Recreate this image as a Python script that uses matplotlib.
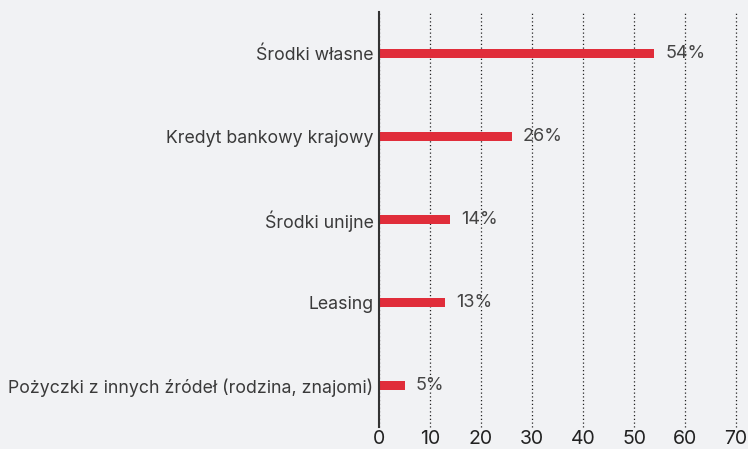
import matplotlib.pyplot as plt
import numpy as np

categories = ['Środki własne', 'Kredyt bankowy krajowy', 'Środki unijne', 'Leasing',
              'Pożyczki z innych źródeł (rodzina, znajomi)']
values = [54, 26, 14, 13, 5]
xticks = [0, 10, 20, 30, 40, 50, 60, 70]

bg = '#f1f2f4'
red = '#e02d3a'
txt = '#3a3a3a'

plt.rcParams['font.family'] = ['Inter', 'DejaVu Sans']

fig = plt.figure(figsize=(7.48, 4.49), dpi=100, facecolor=bg)
ax = fig.add_axes([0.5067, 0.049, 0.4773, 0.924], facecolor=bg)

y = np.arange(len(categories))
ax.barh(y, values, height=0.1, color=red)
for yi, v in zip(y, values):
    ax.annotate(f'{v}%', (v, yi), xytext=(8, 0), textcoords='offset points',
                va='center', ha='left', fontsize=13, color='#444444')

ax.set_xlim(0, 70)
ax.set_ylim(len(categories) - 0.5, -0.5)
ax.set_yticks(y)
ax.set_yticklabels(categories, fontsize=12.75, color=txt)
ax.set_xticks(xticks)
ax.set_xticklabels([str(t) for t in xticks], fontsize=14, color='#222222')
ax.tick_params(axis='both', length=0, pad=4)
ax.tick_params(axis='x', pad=2.5)

ax.xaxis.grid(True, linestyle=(0, (1, 2)), color='#222222', linewidth=0.9)
for gl in ax.get_xgridlines():
    gl.set_clip_on(False)
ax.set_axisbelow(True)
for s in ['top', 'right', 'bottom']:
    ax.spines[s].set_visible(False)
ax.spines['left'].set_color('#333333')
ax.spines['left'].set_linewidth(1.5)

plt.savefig('out.png', dpi=100, facecolor=bg)
